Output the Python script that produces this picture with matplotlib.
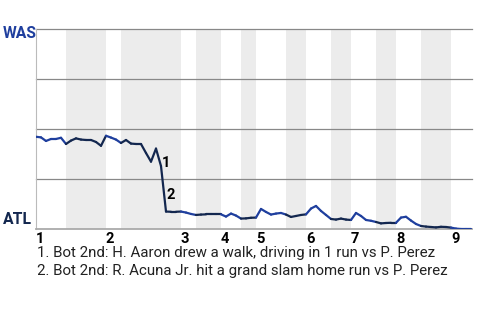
import matplotlib
matplotlib.use('Agg')
import matplotlib.pyplot as plt
import numpy as np

plt.rcParams['font.family'] = ['Roboto', 'DejaVu Sans']

# win probability for WAS after each plate appearance (event index)
wp = [0.460, 0.457, 0.439, 0.449, 0.449, 0.455, 0.424, 0.441, 0.452, 0.446,
      0.444, 0.444, 0.434, 0.415, 0.465, 0.456, 0.446, 0.429, 0.444, 0.426,
      0.424, 0.424, 0.379, 0.336, 0.401, 0.314, 0.087, 0.086, 0.086, 0.087,
      0.082, 0.075, 0.070, 0.072, 0.073, 0.073, 0.073, 0.073, 0.062, 0.077,
      0.067, 0.052, 0.053, 0.056, 0.057, 0.100, 0.085, 0.072, 0.077, 0.080,
      0.072, 0.060, 0.065, 0.070, 0.073, 0.102, 0.115, 0.090, 0.070, 0.050,
      0.047, 0.052, 0.047, 0.045, 0.080, 0.065, 0.045, 0.041, 0.035, 0.028,
      0.030, 0.031, 0.031, 0.057, 0.061, 0.042, 0.025, 0.015, 0.012, 0.010,
      0.008, 0.011, 0.010, 0.007, 0.002, 0.0, 0.0, 0.0]

# event index where each half inning starts
top_starts = [0, 14, 29, 37, 44, 54, 63, 72, 83]
bot_starts = [6, 17, 32, 41, 50, 59, 68, 77]
inning_labels = ['1', '2', '3', '4', '5', '6', '7', '8', '9']
x_end = 87.2

notes = ['1. Bot 2nd: H. Aaron drew a walk, driving in 1 run vs P. Perez',
         '2. Bot 2nd: R. Acuna Jr. hit a grand slam home run vs P. Perez']
note_events = [25, 26]

was_blue = '#1f3f9e'
atl_navy = '#13274f'

fig = plt.figure(figsize=(4.8, 3.2), dpi=100)
ax = fig.add_axes([36 / 480, 1 - 229 / 320, 436 / 480, 200.5 / 320])

# shaded bottom halves
ends = top_starts[1:] + [x_end]
for b, e in zip(bot_starts, ends):
    ax.axvspan(b, e, color='#ececec', lw=0, zorder=0)

for g in [0.25, 0.5, 0.75, 1.0]:
    ax.axhline(g, color='#888888', lw=0.9, zorder=1, clip_on=False)

x = np.arange(len(wp))
bottom_half = np.zeros(len(wp) - 1, dtype=bool)
for b, e in zip(bot_starts, ends):
    mid = x[:-1] + 0.5
    bottom_half |= (mid > b) & (mid < e)
for i in range(len(wp) - 1):
    c = atl_navy if bottom_half[i] else was_blue
    ax.plot(x[i:i + 2], wp[i:i + 2], color=c, lw=1.6,
            solid_capstyle='round', zorder=3)

ax.annotate('1', (note_events[0], wp[note_events[0]]), xytext=(0.3, 2.2),
            textcoords='offset points', fontsize=10.5, fontweight='bold',
            ha='left', va='center', zorder=4)
ax.annotate('2', (note_events[1], wp[note_events[1]]), xytext=(0.3, 12),
            textcoords='offset points', fontsize=10.5, fontweight='bold',
            ha='left', va='center', zorder=4)

ax.set_xlim(0, x_end)
ax.set_ylim(0, 1)
for s in ['top', 'right']:
    ax.spines[s].set_visible(False)
ax.spines['left'].set_color('#bbbbbb')
ax.spines['left'].set_linewidth(0.8)
ax.spines['bottom'].set_color('#aaaaaa')
ax.spines['bottom'].set_linewidth(1.3)
ax.set_yticks([])
ax.set_xticks(top_starts)
ax.set_xticklabels(inning_labels, fontsize=10.5, fontweight='bold',
                   ha='left')
ax.tick_params(axis='x', length=0, pad=2)

fig.text(2.5 / 480, 1 - 33.5 / 320, 'WAS', color=was_blue, fontsize=11.3,
         fontweight='bold', ha='left', va='center')
fig.text(2.5 / 480, 1 - 219.5 / 320, 'ATL', color=atl_navy, fontsize=11.3,
         fontweight='bold', ha='left', va='center')

fig.text(37 / 480, 1 - 257 / 320, notes[0], fontsize=10.8, color='#222222',
         ha='left', va='baseline')
fig.text(37 / 480, 1 - 275 / 320, notes[1], fontsize=10.8, color='#222222',
         ha='left', va='baseline')

fig.savefig('out.png', dpi=100)
